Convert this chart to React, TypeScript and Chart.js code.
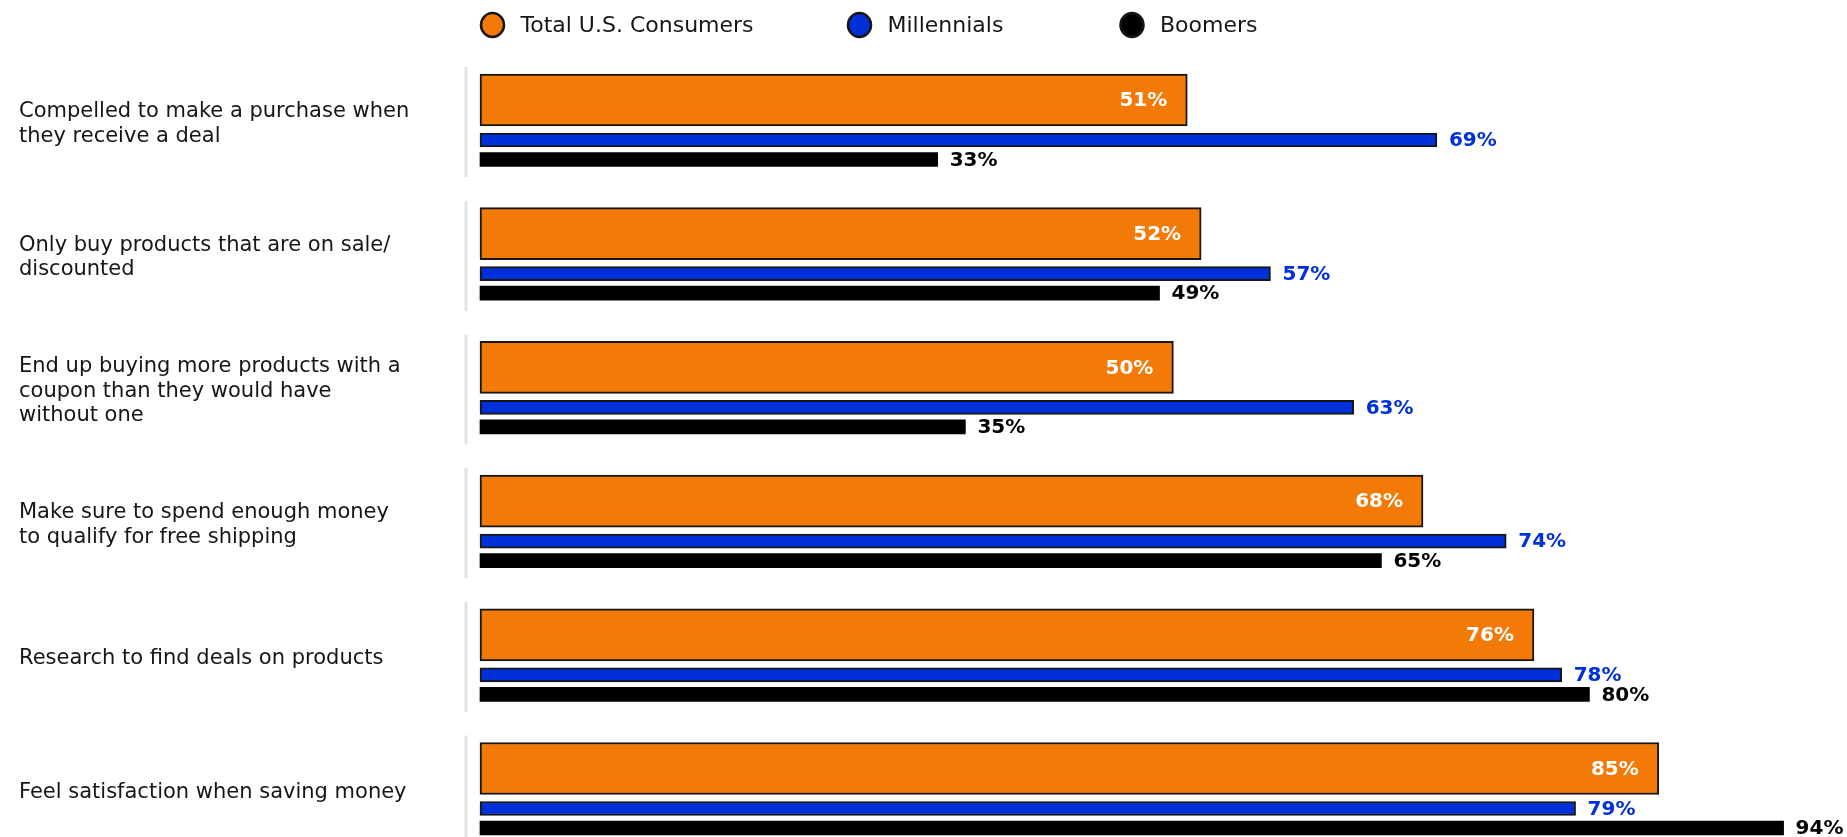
import React, { useEffect, useRef } from "react";
import { Chart, registerables } from "chart.js";

Chart.register(...registerables);

// ---- Data ----
const categories: string[][] = [
  ["Compelled to make a purchase when", "they receive a deal"],
  ["Only buy products that are on sale/", "discounted"],
  ["End up buying more products with a", "coupon than they would have", "without one"],
  ["Make sure to spend enough money", "to qualify for free shipping"],
  ["Research to find deals on products"],
  ["Feel satisfaction when saving money"],
];
const seriesNames = ["Total U.S. Consumers", "Millennials", "Boomers"];
const totalUS = [51, 52, 50, 68, 76, 85];
const millennials = [69, 57, 63, 74, 78, 79];
const boomers = [33, 49, 35, 65, 80, 94];

// ---- Styles ----
const FONT = "'DejaVu Sans', 'Noto Sans', sans-serif";
const ORANGE = "#F47A08";
const BLUE = "#0030DA";
const BLACK = "#000000";
const OUTLINE = "#161616";
const TEXT = "#161616";

const barShift = [-24, 16, 35.5];
const barThick = [52, 14, 14];
const labelColors = ["#ffffff", BLUE, BLACK];
const legendX = [492.5, 859.5, 1132];

const shiftPlugin = {
  id: "barShift",
  afterDatasetsUpdate(chart: any) {
    chart.data.datasets.forEach((_ds: any, i: number) => {
      const meta = chart.getDatasetMeta(i);
      meta.data.forEach((el: any) => {
        el.y = el.y + barShift[i];
      });
    });
  },
};

const axisSegPlugin = {
  id: "axisSegs",
  beforeDatasetsDraw(chart: any) {
    const ctx = chart.ctx;
    const ys = chart.scales.y;
    ctx.save();
    ctx.strokeStyle = "#e3e3e3";
    ctx.lineWidth = 3;
    categories.forEach((_c, i) => {
      const y = ys.getPixelForValue(i);
      ctx.beginPath();
      ctx.moveTo(466, y - 57);
      ctx.lineTo(466, y + 53);
      ctx.stroke();
    });
    ctx.restore();
  },
};

const valueLabelPlugin = {
  id: "valueLabels",
  afterDatasetsDraw(chart: any) {
    const ctx = chart.ctx;
    ctx.save();
    ctx.font = `bold 20px ${FONT}`;
    ctx.textBaseline = "middle";
    chart.data.datasets.forEach((ds: any, i: number) => {
      const meta = chart.getDatasetMeta(i);
      meta.data.forEach((el: any, j: number) => {
        const txt = `${ds.data[j]}%`;
        ctx.fillStyle = labelColors[i];
        if (i === 0) {
          ctx.textAlign = "right";
          ctx.fillText(txt, el.x - 20, el.y + 1);
        } else {
          ctx.textAlign = "left";
          ctx.fillText(txt, el.x + 12, el.y + 1);
        }
      });
    });
    ctx.restore();
  },
};

const legendPlugin = {
  id: "customLegend",
  afterDraw(chart: any) {
    const ctx = chart.ctx;
    ctx.save();
    chart.data.datasets.forEach((ds: any, i: number) => {
      const cx = legendX[i];
      const cy = 25;
      ctx.beginPath();
      ctx.ellipse(cx, cy, 11.5, 12, 0, 0, Math.PI * 2);
      ctx.fillStyle = ds.backgroundColor;
      ctx.fill();
      ctx.lineWidth = 2.5;
      ctx.strokeStyle = OUTLINE;
      ctx.stroke();
      ctx.fillStyle = TEXT;
      ctx.font = `22px ${FONT}`;
      ctx.textAlign = "left";
      ctx.textBaseline = "middle";
      ctx.fillText(ds.label, cx + 28, cy + 1);
    });
    ctx.restore();
  },
};

export default function App() {
  const canvasRef = useRef<HTMLCanvasElement | null>(null);

  useEffect(() => {
    if (!canvasRef.current) return;
    const seriesData = [totalUS, millennials, boomers];
    const colors = [ORANGE, BLUE, BLACK];
    const chart = new Chart(canvasRef.current, {
      type: "bar",
      data: {
        labels: categories,
        datasets: seriesNames.map((name, i) => ({
          label: name,
          data: seriesData[i],
          backgroundColor: colors[i],
          borderColor: OUTLINE,
          borderWidth: i === 2 ? 0 : 2,
          borderSkipped: false,
          barThickness: barThick[i],
          grouped: false,
          clip: false,
        })) as any,
      },
      options: {
        animation: false,
        responsive: true,
        maintainAspectRatio: false,
        indexAxis: "y",
        layout: { padding: { left: 19, top: 124, bottom: 44.5, right: 1 } },
        plugins: {
          legend: { display: false },
          tooltip: { enabled: false },
        },
        scales: {
          x: {
            min: 0,
            max: 98.5,
            display: false,
          },
          y: {
            type: "category",
            offset: false,
            grid: { display: false },
            border: { display: false },
            ticks: {
              crossAlign: "far",
              color: TEXT,
              padding: 0,
              autoSkip: false,
              font: { family: FONT, size: 21, lineHeight: 1.17 },
            },
            afterFit: (s: any) => {
              s.width = 461;
            },
          },
        },
      } as any,
      plugins: [shiftPlugin, axisSegPlugin, valueLabelPlugin, legendPlugin],
    });
    return () => chart.destroy();
  }, []);

  return (
    <div
      style={{
        position: "absolute",
        left: 0,
        top: 0,
        width: "1847px",
        height: "837px",
        background: "#ffffff",
      }}
    >
      <canvas ref={canvasRef} />
    </div>
  );
}
